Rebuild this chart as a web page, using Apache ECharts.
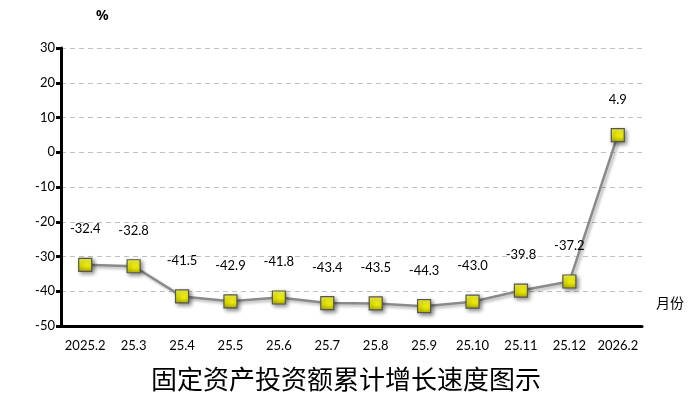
<!DOCTYPE html>
<html lang="zh">
<head>
    <meta charset="UTF-8" />
    <title>固定资产投资额累计增长速度图示</title>
    <style>
        html, body { margin: 0; padding: 0; background: #fff; }
        #chart { width: 692px; height: 412px; }
    </style>
    <script src="https://cdn.jsdelivr.net/npm/echarts@6/dist/echarts.min.js"></script>
</head>
<body>
<div id="chart"></div>
<script>
    var months = ['2025.2', '25.3', '25.4', '25.5', '25.6', '25.7', '25.8', '25.9', '25.10', '25.11', '25.12', '2026.2'];
    var growth = [-32.4, -32.8, -41.5, -42.9, -41.8, -43.4, -43.5, -44.3, -43.0, -39.8, -37.2, 4.9];

    var chart = echarts.init(document.getElementById('chart'));
    var fontFamily = 'Lato, "Noto Sans", sans-serif';

    var option = {
        animation: false,
        grid: { left: 61, right: 50, top: 48, bottom: 86 },
        title: {
            text: '固定资产投资额累计增长速度图示',
            left: 'center',
            top: 361,
            textStyle: { fontFamily: '"Noto Sans CJK SC"', fontSize: 26, fontWeight: 'normal', color: '#000' }
        },
        graphic: [
            { type: 'text', left: 96, top: 9, style: { text: '%', font: 'bold 14px "Noto Sans", sans-serif', fill: '#000' } },
            { type: 'text', left: 656, top: 296, style: { text: '月份', font: '14px "Noto Sans CJK SC"', fill: '#000' } }
        ],
        xAxis: {
            type: 'category',
            data: months,
            boundaryGap: true,
            axisLine: { onZero: false, lineStyle: { color: '#000', width: 3 } },
            axisTick: { show: false },
            axisLabel: { color: '#000', fontSize: 13, fontFamily: fontFamily, margin: 13, interval: 0 }
        },
        yAxis: {
            type: 'value',
            min: -50,
            max: 30,
            interval: 10,
            axisLine: { show: true, onZero: false, lineStyle: { color: '#000', width: 3 } },
            axisTick: { show: true, length: 5, lineStyle: { color: '#000', width: 3 } },
            axisLabel: { color: '#000', fontSize: 13, fontFamily: fontFamily, margin: 6 },
            splitLine: { lineStyle: { color: '#c0c0c0', type: [5, 4], width: 1 } }
        },
        series: [{
            type: 'line',
            data: growth,
            symbol: 'rect',
            symbolSize: 13,
            lineStyle: {
                color: '#8a8a8a', width: 2.5,
                shadowColor: 'rgba(0,0,0,0.3)', shadowBlur: 3, shadowOffsetX: 2, shadowOffsetY: 2
            },
            itemStyle: {
                color: new echarts.graphic.LinearGradient(0, 0, 0, 1, [
                    { offset: 0, color: '#ffff40' },
                    { offset: 0.6, color: '#e8e800' },
                    { offset: 1, color: '#b0b000' }
                ]),
                borderColor: '#555',
                borderWidth: 1.2,
                shadowColor: 'rgba(0,0,0,0.45)', shadowBlur: 4, shadowOffsetX: 2, shadowOffsetY: 2
            },
            label: {
                show: true,
                position: 'top',
                distance: 22,
                color: '#000',
                fontSize: 13,
                fontFamily: fontFamily,
                formatter: function (p) { return p.value.toFixed(1); }
            }
        }]
    };
    chart.setOption(option);
</script>
</body>
</html>
